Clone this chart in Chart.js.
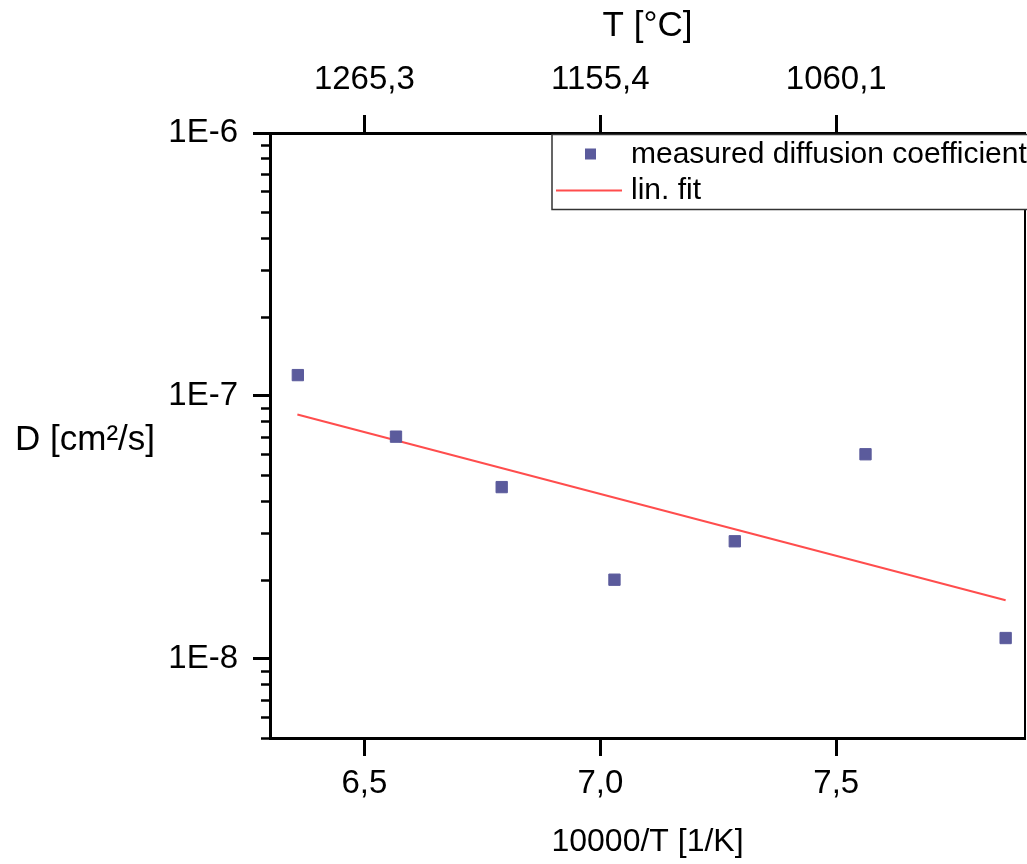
<!DOCTYPE html>
<html>
<head>
<meta charset="utf-8">
<title>Diffusion coefficient vs 10000/T</title>
<script src="https://cdn.jsdelivr.net/npm/chart.js@4/dist/chart.umd.min.js"></script>
<style>
  html, body { margin: 0; padding: 0; background: #fff; }
  #wrap { width: 1027px; height: 864px; }
</style>
</head>
<body>
<div id="wrap"><canvas id="chart" width="1027" height="864"></canvas></div>
<script>
// measured points (10000/T in 1/K, D in cm²/s)
const invT = [6.359, 6.567, 6.791, 7.030, 7.285, 7.562, 7.859];
const diffusion = [1.2e-7, 7.0e-8, 4.5e-8, 2.0e-8, 2.8e-8, 6.0e-8, 1.2e-8];

// linear fit end points
const fitX = [6.358, 7.859];
const fitY = [8.5e-8, 1.67e-8];

// axes
const bottomTicks = [6.5, 7.0, 7.5];
const topTickLabels = ['1265,3', '1155,4', '1060,1'];
const yMajorTicks = [1e-8, 1e-7, 1e-6];
const yMinorTicks = [5e-9, 6e-9, 7e-9, 8e-9, 9e-9,
                     2e-8, 3e-8, 4e-8, 5e-8, 6e-8, 7e-8, 8e-8, 9e-8,
                     2e-7, 3e-7, 4e-7, 5e-7, 6e-7, 7e-7, 8e-7, 9e-7];
const yMajorLabels = ['1E-8', '1E-7', '1E-6'];

const FONT = "'Liberation Sans', Arial, sans-serif";
const POINT_COLOR = '#5b5b9c';
const FIT_COLOR = '#ff4d4d';

// minor ticks, right frame, horizontal y title and the boxed legend
const framePlugin = {
    id: 'frame',
    afterDraw(chart) {
        const ctx = chart.ctx;
        const area = chart.chartArea;
        const yScale = chart.scales.y;
        ctx.save();

        ctx.strokeStyle = '#000';
        ctx.lineWidth = 2.5;
        yMinorTicks.forEach(v => {
            const py = Math.round(yScale.getPixelForValue(v)) + 0.5;
            ctx.beginPath();
            ctx.moveTo(area.left - 9, py);
            ctx.lineTo(area.left, py);
            ctx.stroke();
        });

        // right side of the frame
        ctx.lineWidth = 2;
        ctx.beginPath();
        ctx.moveTo(area.right, area.top);
        ctx.lineTo(area.right, area.bottom);
        ctx.stroke();

        // y axis title (horizontal in the original)
        ctx.fillStyle = '#000';
        ctx.font = '35px ' + FONT;
        ctx.textAlign = 'left';
        ctx.textBaseline = 'middle';
        ctx.fillText('D [cm²/s]', 15, 440);

        // legend
        const lx = area.right - 473, ly = area.top + 1.5;
        const lw = 476, lh = 75;
        ctx.fillStyle = '#fff';
        ctx.fillRect(lx, ly, lw, lh);
        ctx.strokeStyle = '#333';
        ctx.lineWidth = 1.5;
        ctx.strokeRect(lx, ly, lw, lh);

        ctx.fillStyle = POINT_COLOR;
        ctx.fillRect(lx + 33, ly + 14, 11, 11);

        ctx.strokeStyle = FIT_COLOR;
        ctx.lineWidth = 2;
        ctx.beginPath();
        ctx.moveTo(lx + 4, ly + 56);
        ctx.lineTo(lx + 70, ly + 56);
        ctx.stroke();

        ctx.fillStyle = '#000';
        ctx.font = '30px ' + FONT;
        ctx.fillText('measured diffusion coefficient', lx + 79, ly + 20);
        ctx.fillText('lin. fit', lx + 79, ly + 56);

        ctx.restore();
    }
};

const axisBorder = { display: true, color: '#000', width: 3 };

// keep the plot frame fixed: no extra side padding from tick labels
const noSidePadding = (scale) => {
    scale.paddingLeft = 0;
    scale.paddingRight = 0;
};

new Chart(document.getElementById('chart'), {
    type: 'scatter',
    data: {
        datasets: [
            {
                label: 'measured diffusion coefficient',
                data: invT.map((x, i) => ({ x: x, y: diffusion[i] })),
                pointStyle: 'rect',
                pointRadius: 8,
                pointBackgroundColor: POINT_COLOR,
                pointBorderColor: POINT_COLOR,
                pointBorderWidth: 1,
                showLine: false
            },
            {
                label: 'lin. fit',
                type: 'line',
                data: fitX.map((x, i) => ({ x: x, y: fitY[i] })),
                borderColor: FIT_COLOR,
                borderWidth: 2,
                pointRadius: 0,
                fill: false,
                tension: 0
            }
        ]
    },
    options: {
        responsive: false,
        animation: false,
        devicePixelRatio: 1,
        layout: { autoPadding: false, padding: { left: 0, right: 2, top: 0, bottom: 0 } },
        plugins: {
            legend: { display: false },
            tooltip: { enabled: false }
        },
        scales: {
            x: {
                type: 'linear',
                position: 'bottom',
                min: 6.3,
                max: 7.9,
                afterBuildTicks: (scale) => {
                    scale.ticks = bottomTicks.map(v => ({ value: v }));
                },
                afterFit: (scale) => {
                    scale.height = 126;
                    noSidePadding(scale);
                },
                ticks: {
                    autoSkip: false,
                    maxRotation: 0,
                    padding: 8,
                    color: '#000',
                    font: { family: FONT, size: 33 },
                    callback: (v) => v.toFixed(1).replace('.', ',')
                },
                grid: { drawOnChartArea: false, tickLength: 18, tickWidth: 3, tickColor: '#000' },
                border: axisBorder,
                title: {
                    display: true,
                    text: '10000/T [1/K]',
                    color: '#000',
                    font: { family: FONT, size: 32 },
                    padding: { top: 0, bottom: 3 }
                }
            },
            x2: {
                type: 'linear',
                position: 'top',
                min: 6.3,
                max: 7.9,
                afterBuildTicks: (scale) => {
                    scale.ticks = bottomTicks.map(v => ({ value: v }));
                },
                afterFit: (scale) => {
                    scale.height = 133;
                    noSidePadding(scale);
                },
                ticks: {
                    autoSkip: false,
                    maxRotation: 0,
                    padding: 15,
                    color: '#000',
                    font: { family: FONT, size: 33 },
                    callback: (v, i) => topTickLabels[i]
                },
                grid: { drawOnChartArea: false, tickLength: 18, tickWidth: 3, tickColor: '#000' },
                border: axisBorder,
                title: {
                    display: true,
                    text: 'T [°C]',
                    color: '#000',
                    font: { family: FONT, size: 35 },
                    padding: { top: 5, bottom: 0 }
                }
            },
            y: {
                type: 'logarithmic',
                position: 'left',
                min: 5e-9,
                max: 1e-6,
                afterBuildTicks: (scale) => {
                    scale.ticks = yMajorTicks.map(v => ({ value: v, major: true }));
                },
                afterFit: (scale) => {
                    scale.width = 270;
                    scale.paddingTop = 0;
                    scale.paddingBottom = 0;
                },
                ticks: {
                    autoSkip: false,
                    padding: 15,
                    color: '#000',
                    font: { family: FONT, size: 33 },
                    callback: (v, i) => yMajorLabels[i]
                },
                grid: { drawOnChartArea: false, tickLength: 17, tickWidth: 3, tickColor: '#000' },
                border: axisBorder
            }
        }
    },
    plugins: [framePlugin]
});
</script>
</body>
</html>
